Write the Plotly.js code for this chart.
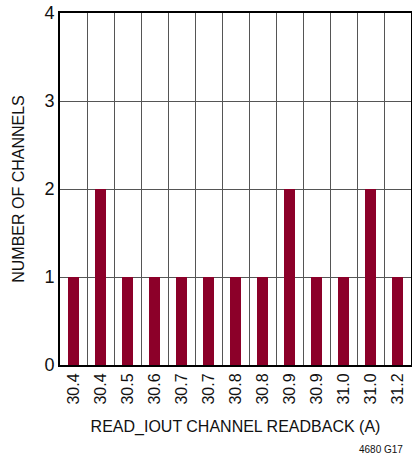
<!DOCTYPE html>
<html><head><meta charset="utf-8">
<script src="https://cdn.plot.ly/plotly-3.0.1.min.js"></script>
<style>body{margin:0;background:#fff}#c{width:412px;height:456px}</style>
</head><body><div id="c"></div>
<script>
const tickLabels = ["30.4","30.4","30.5","30.6","30.7","30.7","30.8","30.8","30.9","30.9","31.0","31.0","31.2"];
const counts = [1,2,1,1,1,1,1,1,2,1,1,2,1];
const yTicks = [0,1,2,3,4];

const idx = tickLabels.map((_, i) => i);
const bounds = tickLabels.map((_, i) => i + 0.5).slice(0, -1);
const FONT = "'Liberation Sans Narrow', 'Liberation Sans', Arial, sans-serif";

const data = [{
  type: 'bar', x: idx, y: counts, width: 0.42,
  marker: {color: '#8c0029', line: {width: 0}}, hoverinfo: 'skip'
},{
  type: 'scatter', x: [], y: [], xaxis: 'x2', showlegend: false
}];

const layout = {
  width: 412, height: 456,
  margin: {l: 60, r: 1, t: 13, b: 91},
  paper_bgcolor: '#fff', plot_bgcolor: '#fff',
  showlegend: false, bargap: 0,
  font: {family: FONT, color: '#111'},
  xaxis: {
    range: [-0.5, tickLabels.length - 0.5],
    tickvals: idx, ticktext: tickLabels, tickangle: -90,
    tickfont: {size: 16, family: FONT, color: '#111'},
    showgrid: false, zeroline: false, ticks: '',
    showline: true, linecolor: '#000', linewidth: 2, mirror: true,
    title: {text: 'READ_IOUT CHANNEL READBACK (A)', font: {size: 16, family: FONT, color: '#111'}, standoff: 17}
  },
  xaxis2: {
    overlaying: 'x', matching: 'x', range: [-0.5, tickLabels.length - 0.5],
    tickvals: bounds, showticklabels: false, ticks: '',
    showgrid: true, gridcolor: '#555', gridwidth: 1, zeroline: false
  },
  yaxis: {
    range: [0, 4], tickvals: yTicks, ticktext: yTicks.map(String),
    tickfont: {size: 18, family: FONT, color: '#111'},
    showgrid: true, gridcolor: '#555', gridwidth: 1, zeroline: false, ticks: '',
    showline: true, linecolor: '#000', linewidth: 2, mirror: true,
    title: {text: 'NUMBER OF CHANNELS', font: {size: 16, family: FONT, color: '#111'}, standoff: 16}
  },
  annotations: [{
    text: '4680 G17', xref: 'paper', yref: 'paper', x: 1, y: 0,
    xanchor: 'right', yanchor: 'top', yshift: -77, xshift: -6, showarrow: false,
    font: {size: 10, family: FONT, color: '#111'}
  }]
};
Plotly.newPlot('c', data, layout, {staticPlot: true});
</script></body></html>
